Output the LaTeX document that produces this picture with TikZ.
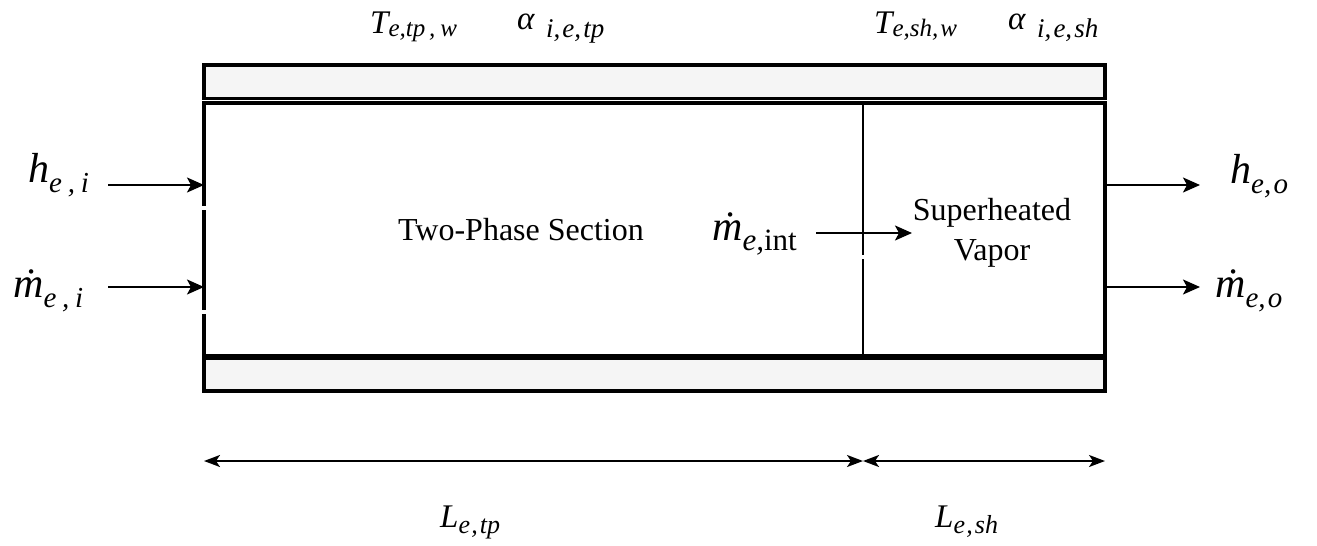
\documentclass[tikz,border=0pt]{standalone}
\usepackage{fontspec}
\setmainfont{Liberation Serif}
\usetikzlibrary{arrows.meta}
% label with subscript: base size, base, sub size, sub, drop
\newcommand{\lab}[5]{{\fontsize{#1}{#1}\selectfont\itshape #2}\raisebox{-#5}{\fontsize{#3}{#3}\selectfont\itshape #4}}
\newcommand{\cm}{\kern0.05em,\kern0.2em}
\newcommand{\cn}{,\kern0.08em}
\tikzset{
  wall/.style={draw=black, line width=3.2pt, fill=black!4},
  tube/.style={draw=black, line width=3.2pt},
  divider/.style={draw=black, line width=2.6pt},
  flow/.style={line width=2pt, -{Stealth[length=17pt,width=15pt,inset=4pt]}},
  dim/.style={line width=2pt, {Stealth[length=16pt,width=12pt,inset=4pt]}-{Stealth[length=16pt,width=12pt,inset=4pt]}},
  lbl/.style={inner sep=0pt, anchor=base west},
  txt/.style={font=\fontsize{32}{40}\selectfont, inner sep=0pt, align=center},
  gap/.style={draw=white, line width=3.6pt}
}
\begin{document}
\begin{tikzpicture}[x=1pt,y=-1pt]
\useasboundingbox (0,0) rectangle (1317,546);
% walls
\draw[wall] (204,65) rectangle (1105,98.5);
\draw[wall] (204,358.5) rectangle (1105,391);
% tube interior
\draw[tube] (204,103) rectangle (1105,355.5);
\draw[divider] (863,103) -- (863,355.5);
% small gaps
\draw[gap] (204,206) -- (204,210);
\draw[gap] (204,310) -- (204,314);
\draw[gap] (863,255) -- (863,259);
% coordinates
\coordinate (hiS) at (108,185); \coordinate (hiE) at (204,185);
\coordinate (miS) at (108,287); \coordinate (miE) at (204,287);
\coordinate (hoS) at (1105,185); \coordinate (hoE) at (1200,185);
\coordinate (moS) at (1105,287); \coordinate (moE) at (1200,287);
\coordinate (mintS) at (816,233); \coordinate (mintE) at (912,233);
\coordinate (dA) at (204,461); \coordinate (dB) at (863,461); \coordinate (dC) at (1105,461);
% labels
\node[lbl] (Ttp) at (370,33) {\lab{33}{T}{25}{e,tp\kern0.1em\cm w}{3pt}};
\node[lbl] (atp) at (517,29) {\lab{33}{α\kern0.35em}{27}{i\cn e\cn tp}{9pt}};
\node[lbl] (Tsh) at (874,33) {\lab{33}{T}{25}{e,sh\cn w}{3pt}};
\node[lbl] (ash) at (1008,29) {\lab{33}{α\kern0.35em}{27}{i\cn e\cn sh}{9pt}};
\node[lbl] (hi) at (28,182) {\lab{42}{h}{29}{e\kern0.15em\cm i}{10pt}};
\node[lbl] (mi) at (13,297) {\lab{42}{ṁ}{29}{e\kern0.15em\cm i}{10pt}};
\node[lbl] (ho) at (1230,183) {\lab{42}{h}{29}{e\cn o}{10pt}};
\node[lbl] (mo) at (1215,297) {\lab{42}{ṁ}{29}{e\cn o}{10pt}};
\node[lbl] (mint) at (712,240) {\lab{42}{ṁ}{31}{e,\upshape int}{10pt}};
\node[txt] (tp) at (521,230) {Two-Phase Section};
\node[txt] (sh) at (992,233) {Superheated\\Vapor};
\node[lbl] (Ltp) at (440,527) {\lab{33}{L}{26}{e\kern0.05em\cn tp}{6pt}};
\node[lbl] (Lsh) at (935,527) {\lab{33}{L}{26}{e\kern0.05em\cn sh}{6pt}};
% arrows
\draw[flow] (hiS) -- (hiE);
\draw[flow] (miS) -- (miE);
\draw[flow] (hoS) -- (hoE);
\draw[flow] (moS) -- (moE);
\draw[flow] (mintS) -- (mintE);
\draw[dim] (dA) -- (dB);
\draw[dim] (dB) -- (dC);
\end{tikzpicture}
\end{document}
